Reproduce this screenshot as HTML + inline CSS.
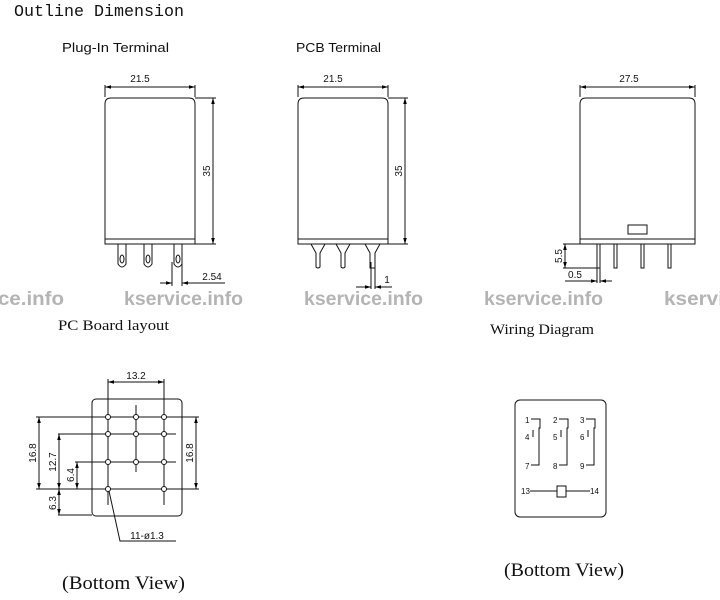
<!DOCTYPE html>
<html><head><style>
html,body{margin:0;padding:0;background:#fff;width:720px;height:600px;overflow:hidden}
svg{display:block}
.s{font-family:"Liberation Sans",sans-serif}
.m{font-family:"Liberation Mono",monospace}
.r{font-family:"Liberation Serif",serif}
</style></head><body>
<svg width="720" height="600" viewBox="0 0 720 600" xmlns="http://www.w3.org/2000/svg">
<defs>
<marker id="a" viewBox="0 0 10 6" refX="10" refY="3" markerWidth="6" markerHeight="4" orient="auto-start-reverse"><path d="M0,0L10,3L0,6z" fill="#000"/></marker>
</defs>
<g fill="#111">
<text x="14" y="16" class="m" font-size="17" textLength="170" lengthAdjust="spacingAndGlyphs">Outline Dimension</text>
<text x="62" y="52" class="s" font-size="13" textLength="107" lengthAdjust="spacingAndGlyphs">Plug-In Terminal</text>
<text x="296" y="52" class="s" font-size="13" textLength="85" lengthAdjust="spacingAndGlyphs">PCB Terminal</text>
<text x="58" y="330" class="r" font-size="15" textLength="111" lengthAdjust="spacingAndGlyphs">PC Board layout</text>
<text x="490" y="334" class="r" font-size="15" textLength="104" lengthAdjust="spacingAndGlyphs">Wiring Diagram</text>
<text x="62" y="589" class="r" font-size="19" textLength="123" lengthAdjust="spacingAndGlyphs">(Bottom View)</text>
<text x="504" y="576" class="r" font-size="19" textLength="120" lengthAdjust="spacingAndGlyphs">(Bottom View)</text>
</g>
<g fill="#b4b4b4" class="s" font-size="19" font-weight="bold">
<text x="-2" y="305" textLength="66" lengthAdjust="spacingAndGlyphs">ce.info</text>
<text x="124" y="305" textLength="119" lengthAdjust="spacingAndGlyphs">kservice.info</text>
<text x="304" y="305" textLength="119" lengthAdjust="spacingAndGlyphs">kservice.info</text>
<text x="484" y="305" textLength="119" lengthAdjust="spacingAndGlyphs">kservice.info</text>
<text x="664" y="305" textLength="60" lengthAdjust="spacingAndGlyphs">kservi</text>
</g>
<g stroke="#111" fill="none" stroke-width="1">
<path d="M105,244V104Q105,98 111,98H189Q195,98 195,104V244Z"/>
<line x1="105" y1="239" x2="195" y2="239"/>
<line x1="105" y1="87" x2="195" y2="87" marker-start="url(#a)" marker-end="url(#a)"/>
<line x1="105" y1="85" x2="105" y2="97"/><line x1="195" y1="85" x2="195" y2="97"/>
<line x1="195" y1="98" x2="216" y2="98"/><line x1="195" y1="244" x2="216" y2="244"/>
<line x1="213" y1="98" x2="213" y2="244" marker-start="url(#a)" marker-end="url(#a)"/>
<path d="M118,244V264Q122,270 126,264V244"/><ellipse cx="122" cy="259" rx="2" ry="4"/>
<path d="M144,244V264Q148,270 152,264V244"/><ellipse cx="148" cy="259" rx="2" ry="4"/>
<path d="M174,244V264Q178,270 182,264V244"/><ellipse cx="178" cy="259" rx="2" ry="4"/>
<line x1="172" y1="262" x2="172" y2="286"/><line x1="182" y1="262" x2="182" y2="286"/>
<line x1="160" y1="283" x2="172" y2="283" marker-end="url(#a)"/>
<line x1="194" y1="283" x2="182" y2="283" marker-end="url(#a)"/><line x1="194" y1="283" x2="225" y2="283"/>
<path d="M298,244V104Q298,98 304,98H382Q388,98 388,104V244Z"/>
<line x1="298" y1="239" x2="388" y2="239"/>
<line x1="298" y1="87" x2="388" y2="87" marker-start="url(#a)" marker-end="url(#a)"/>
<line x1="298" y1="85" x2="298" y2="97"/><line x1="388" y1="85" x2="388" y2="97"/>
<line x1="388" y1="98" x2="408" y2="98"/><line x1="388" y1="244" x2="408" y2="244"/>
<line x1="405" y1="98" x2="405" y2="244" marker-start="url(#a)" marker-end="url(#a)"/>
<path d="M311,244L316,253V267Q318,269 320,267V253L325,244"/>
<path d="M336,244L341,253V267Q343,269 345,267V253L350,244"/>
<path d="M365,244L370,253V268H375V253L380,244"/>
<line x1="371" y1="262" x2="371" y2="289"/><line x1="375" y1="262" x2="375" y2="289"/>
<line x1="356" y1="287" x2="371" y2="287" marker-end="url(#a)"/>
<line x1="392" y1="287" x2="375" y2="287" marker-end="url(#a)"/>
<path d="M580,244V104Q580,98 586,98H689Q695,98 695,104V244Z"/>
<line x1="580" y1="239" x2="695" y2="239"/>
<rect x="628" y="225" width="19" height="9"/>
<line x1="580" y1="87" x2="695" y2="87" marker-start="url(#a)" marker-end="url(#a)"/>
<line x1="580" y1="85" x2="580" y2="97"/><line x1="695" y1="85" x2="695" y2="97"/>
<path d="M597,244V268H600V244"/><path d="M614,244V268H617V244"/><path d="M641,244V268H644V244"/><path d="M668,244V268H671V244"/>
<line x1="563" y1="244" x2="580" y2="244"/><line x1="563" y1="268" x2="597" y2="268"/>
<line x1="565" y1="244" x2="565" y2="268" marker-start="url(#a)" marker-end="url(#a)"/>
<line x1="597" y1="268" x2="597" y2="283"/><line x1="600" y1="268" x2="600" y2="283"/>
<line x1="565" y1="281" x2="597" y2="281" marker-end="url(#a)"/>
<line x1="612" y1="281" x2="600" y2="281" marker-end="url(#a)"/>
<rect x="92" y="399" width="90" height="117" rx="4"/>
<line x1="108" y1="379" x2="108" y2="505"/><line x1="164" y1="379" x2="164" y2="505"/><line x1="136" y1="405" x2="136" y2="472"/>
<line x1="108" y1="382" x2="164" y2="382" marker-start="url(#a)" marker-end="url(#a)"/>
<line x1="36" y1="417" x2="199" y2="417"/>
<line x1="58" y1="434" x2="176" y2="434"/>
<line x1="75" y1="462" x2="176" y2="462"/>
<line x1="36" y1="489" x2="199" y2="489"/>
<line x1="58" y1="515" x2="92" y2="515"/>
<line x1="39" y1="417" x2="39" y2="489" marker-start="url(#a)" marker-end="url(#a)"/>
<line x1="196" y1="417" x2="196" y2="489" marker-start="url(#a)" marker-end="url(#a)"/>
<line x1="59" y1="434" x2="59" y2="489" marker-start="url(#a)" marker-end="url(#a)"/>
<line x1="77" y1="462" x2="77" y2="489" marker-start="url(#a)" marker-end="url(#a)"/>
<line x1="59" y1="489" x2="59" y2="515" marker-start="url(#a)" marker-end="url(#a)"/>
<polyline points="109,491 120,541 176,541"/>
</g>
<g fill="#fff" stroke="#111">
<circle cx="108" cy="417" r="2.5"/><circle cx="136" cy="417" r="2.5"/><circle cx="164" cy="417" r="2.5"/>
<circle cx="108" cy="434" r="2.5"/><circle cx="136" cy="434" r="2.5"/><circle cx="164" cy="434" r="2.5"/>
<circle cx="108" cy="462" r="2.5"/><circle cx="136" cy="462" r="2.5"/><circle cx="164" cy="462" r="2.5"/>
<circle cx="108" cy="489" r="2.5"/><circle cx="164" cy="489" r="2.5"/>
</g>
<g fill="#111" class="s" font-size="10">
<text x="140" y="82" text-anchor="middle">21.5</text>
<text x="333" y="82" text-anchor="middle">21.5</text>
<text x="629" y="82" text-anchor="middle">27.5</text>
<text x="210" y="171" transform="rotate(-90 210 171)" text-anchor="middle">35</text>
<text x="402" y="171" transform="rotate(-90 402 171)" text-anchor="middle">35</text>
<text x="562" y="256" transform="rotate(-90 562 256)" text-anchor="middle">5.5</text>
<text x="212" y="280" text-anchor="middle">2.54</text>
<text x="387" y="283" text-anchor="middle">1</text>
<text x="575" y="278" text-anchor="middle">0.5</text>
<text x="136" y="379" text-anchor="middle">13.2</text>
<text x="36" y="453" transform="rotate(-90 36 453)" text-anchor="middle">16.8</text>
<text x="56" y="462" transform="rotate(-90 56 462)" text-anchor="middle">12.7</text>
<text x="74" y="475" transform="rotate(-90 74 475)" text-anchor="middle">6.4</text>
<text x="56" y="503" transform="rotate(-90 56 503)" text-anchor="middle">6.3</text>
<text x="193" y="453" transform="rotate(-90 193 453)" text-anchor="middle">16.8</text>
<text x="147" y="539" text-anchor="middle">11-ø1.3</text>
</g>
<g stroke="#111" fill="none">
<rect x="515" y="400" width="91" height="117" rx="5"/>
<g id="w"><polyline points="531,419 540,419 540,428 539,428 539,465 531,465"/><line x1="533" y1="430" x2="533" y2="437"/></g>
<use href="#w" x="28"/><use href="#w" x="55"/>
<line x1="530" y1="491" x2="557" y2="491"/><rect x="557" y="486" width="9" height="11"/><line x1="566" y1="491" x2="590" y2="491"/>
</g>
<g fill="#111" class="s" font-size="8">
<text x="525" y="423">1</text><text x="525" y="440">4</text><text x="525" y="469">7</text>
<text x="553" y="423">2</text><text x="553" y="440">5</text><text x="553" y="469">8</text>
<text x="580" y="423">3</text><text x="580" y="440">6</text><text x="580" y="469">9</text>
<text x="521" y="494">13</text><text x="590" y="494">14</text>
</g>
</svg>
</body></html>
